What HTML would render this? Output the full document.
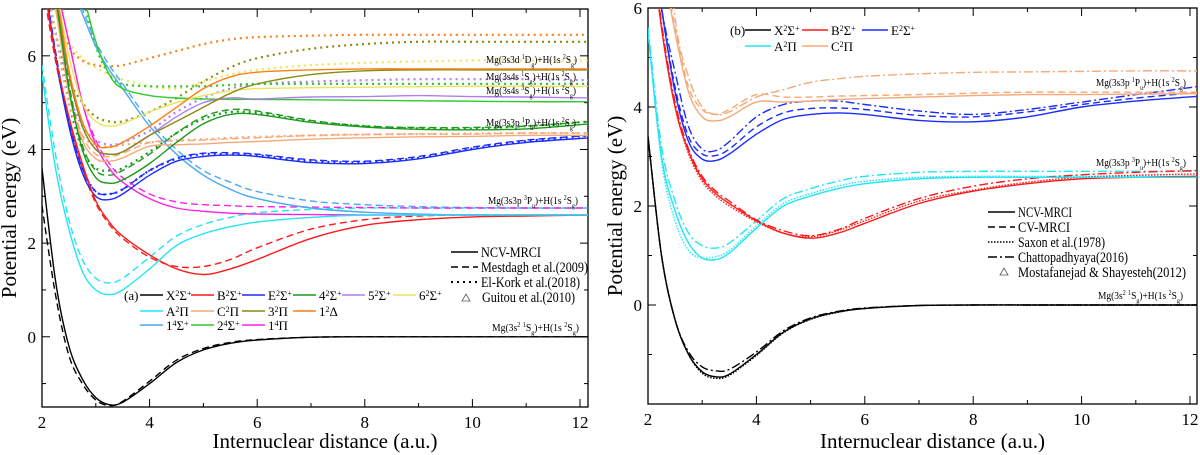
<!DOCTYPE html>
<html><head><meta charset="utf-8">
<style>
html,body{margin:0;padding:0;background:#fff;}
svg{display:block;font-family:"Liberation Serif",serif;}
</style></head>
<body>
<svg id="chart" width="1200" height="455" viewBox="0 0 1200 455"></svg>
<script>
// ---------- data (energies in eV on a shared grid of internuclear distances) ----------
const R = [2,2.25,2.5,2.75,3,3.25,3.5,4,4.5,5,5.5,6,7,8,9,10,11,12.2];
const xTicks = [2,4,6,8,10,12];
const yTicksA = [0,2,4,6];
const yTicksB = [0,2,4,6];

// panel (a) NCV-MRCI (solid)
const aX  = [3.6,1.2,-0.2,-0.9,-1.3,-1.45,-1.4,-1.0,-0.55,-0.28,-0.14,-0.07,-0.01,0,0,0,0,0];
const aA  = [5.6,3.6,2.3,1.4,1.0,0.9,1.0,1.45,1.95,2.2,2.35,2.45,2.55,2.6,2.6,2.6,2.6,2.6];
const aB  = [7.8,6.0,4.7,3.7,2.9,2.45,2.15,1.75,1.45,1.33,1.45,1.65,2.1,2.38,2.5,2.56,2.58,2.6];
const aE  = [8,6.0,4.5,3.5,3.0,2.93,3.05,3.45,3.75,3.85,3.88,3.85,3.72,3.7,3.8,4.0,4.15,4.25];
const aC  = [8,7.0,5.2,4.2,3.8,3.75,3.82,4.07,4.1,4.12,4.15,4.17,4.22,4.25,4.27,4.28,4.3,4.3];
const aS4 = [8,7.2,5.3,4.0,3.4,3.28,3.35,3.7,4.15,4.55,4.75,4.75,4.58,4.48,4.43,4.42,4.44,4.55];
const aS5 = [8,7.2,5.6,4.5,4.0,3.9,3.95,4.3,4.7,5.0,5.1,5.08,5.12,5.13,5.15,5.13,5.12,5.1];
const aS6 = [8,7.4,6.0,5.0,4.6,4.5,4.55,4.8,5.0,5.15,5.25,5.3,5.32,5.33,5.34,5.35,5.35,5.35];
const aP3 = [8,7.3,5.6,4.5,4.0,3.9,3.95,4.3,4.6,4.9,5.2,5.4,5.6,5.68,5.7,5.7,5.7,5.7];
const aD1 = [8,7.4,5.7,4.6,4.1,4.05,4.15,4.5,4.9,5.3,5.55,5.65,5.7,5.72,5.72,5.72,5.72,5.72];
const aQ1 = [8,8,7.6,6.9,6.2,5.7,5.3,4.5,3.9,3.45,3.15,2.95,2.75,2.66,2.62,2.6,2.6,2.6];
const aQ2 = [9,9,8.5,7.4,6.3,5.6,5.3,5.15,5.1,5.08,5.07,5.07,5.06,5.05,5.04,5.03,5.02,5.02];
const aP4 = [8,7.5,6.3,5.0,4.1,3.6,3.3,2.95,2.75,2.68,2.64,2.62,2.61,2.6,2.6,2.6,2.6,2.6];
// panel (a) Mestdagh (dashed)
const aXd  = [2.8,0.9,-0.4,-1.0,-1.35,-1.47,-1.38,-0.95,-0.5,-0.25,-0.12,-0.06,-0.01,0,0,0,0,0];
const aAd  = [5.8,3.9,2.5,1.65,1.25,1.15,1.25,1.7,2.15,2.4,2.55,2.65,2.72,2.75,2.75,2.75,2.75,2.75];
const aBd  = [7.6,5.9,4.6,3.6,2.85,2.4,2.1,1.7,1.5,1.5,1.65,1.9,2.3,2.5,2.58,2.6,2.6,2.6];
const aEd  = [8,6.1,4.6,3.6,3.1,3.05,3.15,3.55,3.82,3.92,3.93,3.9,3.78,3.75,3.85,4.05,4.2,4.3];
const aCd  = [8,7.1,5.3,4.3,3.9,3.85,3.92,4.15,4.18,4.2,4.23,4.25,4.3,4.32,4.33,4.33,4.35,4.35];
const aS4d = [8,7.3,5.4,4.1,3.55,3.45,3.55,3.9,4.35,4.7,4.85,4.82,4.62,4.5,4.47,4.47,4.5,4.6];
const aQ1d = [8,8,7.7,7.0,6.3,5.8,5.4,4.6,4.0,3.55,3.3,3.1,2.9,2.82,2.78,2.76,2.75,2.75];
const aP4d = [8,7.5,6.3,5.0,4.2,3.7,3.4,3.05,2.88,2.82,2.8,2.78,2.77,2.76,2.75,2.75,2.75,2.75];
// panel (a) El-Kork (dotted)
const aD1o = [8,7,6.2,5.9,5.8,5.78,5.8,5.95,6.1,6.25,6.35,6.4,6.43,6.45,6.45,6.45,6.45,6.45];
const aP3o = [8,6.5,5.5,5.0,4.7,4.6,4.6,4.8,5.1,5.45,5.75,5.95,6.15,6.25,6.3,6.3,6.3,6.3];
const aS6o = [8,7,6.3,5.95,5.75,5.6,5.5,5.35,5.3,5.45,5.6,5.7,5.8,5.85,5.88,5.9,5.9,5.9];
const aS5o = [8,6.5,5.2,4.5,4.2,4.1,4.15,4.4,4.8,5.1,5.3,5.4,5.45,5.48,5.5,5.5,5.5,5.48];
const aS4o = [8,6.5,5.0,4.0,3.6,3.55,3.6,3.95,4.35,4.65,4.8,4.78,4.6,4.5,4.45,4.45,4.5,4.6];
const aQ2o = [9,9,8.5,7.3,6.2,5.6,5.4,5.35,5.35,5.35,5.38,5.4,5.4,5.4,5.4,5.4,5.4,5.4];
const aCo  = [8,6.5,5.0,4.3,4.1,4.05,4.1,4.15,4.2,4.22,4.25,4.27,4.3,4.32,4.33,4.34,4.35,4.35];
const aEo  = [8,6,4.6,3.6,3.1,3.05,3.15,3.55,3.8,3.9,3.9,3.88,3.75,3.73,3.82,4.02,4.18,4.3];

// panel (b)
const bX   = [3.4,1.0,-0.3,-1.0,-1.35,-1.45,-1.4,-1.0,-0.55,-0.28,-0.14,-0.07,-0.01,0,0,0,0,0];
const bXo  = [3.4,1.0,-0.3,-1.0,-1.38,-1.48,-1.42,-1.02,-0.56,-0.29,-0.15,-0.07,-0.01,0,0,0,0,0];
const bXdd = [3.4,1.0,-0.3,-0.95,-1.25,-1.33,-1.3,-0.95,-0.52,-0.26,-0.13,-0.06,-0.01,0,0,0,0,0];
const bA   = [5.5,3.0,1.9,1.25,0.95,0.92,1.05,1.55,2.0,2.2,2.35,2.45,2.55,2.58,2.58,2.58,2.58,2.58];
const bAo  = [5.5,2.9,1.7,1.1,0.95,0.98,1.1,1.6,2.05,2.25,2.4,2.5,2.58,2.6,2.6,2.6,2.6,2.6];
const bAdd = [5.6,3.2,2.1,1.45,1.2,1.15,1.25,1.7,2.15,2.35,2.5,2.6,2.68,2.7,2.7,2.7,2.7,2.7];
const bB   = [8,5.6,4.0,3.1,2.55,2.25,2.05,1.7,1.45,1.35,1.45,1.65,2.05,2.3,2.45,2.55,2.58,2.6];
const bBo  = [8,5.6,4.0,3.05,2.5,2.2,2.0,1.68,1.45,1.38,1.5,1.7,2.1,2.32,2.48,2.58,2.62,2.65];
const bBdd = [8,5.7,4.1,3.15,2.6,2.3,2.1,1.72,1.5,1.4,1.52,1.75,2.15,2.4,2.55,2.63,2.68,2.72];
const bE   = [8,6,4.3,3.3,2.95,2.92,3.05,3.45,3.75,3.85,3.88,3.85,3.73,3.7,3.8,4.0,4.12,4.22];
const bEd  = [8,6,4.4,3.4,3.05,3.02,3.15,3.6,3.88,3.97,3.98,3.95,3.83,3.8,3.9,4.05,4.18,4.3];
const bEdd = [8,6,4.7,3.6,3.15,3.12,3.3,3.8,4.05,4.12,4.12,4.05,3.92,3.85,3.95,4.1,4.25,4.42];
const bC   = [8,7,5.5,4.3,3.8,3.72,3.8,4.1,4.1,4.12,4.15,4.17,4.2,4.23,4.25,4.25,4.26,4.27];
const bCd  = [8,7,5.6,4.4,3.95,3.85,3.95,4.25,4.2,4.2,4.22,4.23,4.25,4.28,4.3,4.3,4.3,4.3];
const bCdd = [9,9,5.8,4.6,4.0,3.85,3.9,4.2,4.35,4.5,4.57,4.62,4.67,4.7,4.71,4.72,4.73,4.73];

// ---------- drawing ----------
const NS='http://www.w3.org/2000/svg';
const svg=document.getElementById('chart');
function mk(tag,attrs,parent){const e=document.createElementNS(NS,tag);for(const k in attrs)e.setAttribute(k,attrs[k]);(parent||svg).appendChild(e);return e;}

const PA={x0:42,x1:588,y0:9,y1:407,ry:[-1.5,7],xs:(580-42)/10,id:'a'};
const PB={x0:648,x1:1197,y0:8,y1:404,ry:[-2,6],xs:(1190-648)/10,id:'b'};
PA.X=v=>PA.x0+(v-2)*PA.xs; PA.Y=v=>PA.y1-(v-PA.ry[0])/(PA.ry[1]-PA.ry[0])*(PA.y1-PA.y0);
PB.X=v=>PB.x0+(v-2)*PB.xs; PB.Y=v=>PB.y1-(v-PB.ry[0])/(PB.ry[1]-PB.ry[0])*(PB.y1-PB.y0);

function axes(P,yt,name){
  const g=mk('g',{});
  
  
  mk('rect',{x:P.x0,y:P.y0,width:P.x1-P.x0,height:P.y1-P.y0,fill:'none',stroke:'#000','stroke-width':1.3},g);
  for(let v=2;v<=12;v++){const x=P.X(v),L=v%2?4:8;
    mk('line',{x1:x,y1:P.y1,x2:x,y2:P.y1-L,stroke:'#000'},g);
    mk('line',{x1:x,y1:P.y0,x2:x,y2:P.y0+L,stroke:'#000'},g);}
  xTicks.forEach(v=>{const t=mk('text',{x:P.X(v),y:P.y1+21,'text-anchor':'middle','font-size':17},g);t.textContent=v;
    
    });
  for(let v=Math.ceil(P.ry[0]);v<=P.ry[1];v++){const y=P.Y(v),L=v%2?4:8;
    mk('line',{x1:P.x0,y1:y,x2:P.x0+L,y2:y,stroke:'#000'},g);
    mk('line',{x1:P.x1,y1:y,x2:P.x1-L,y2:y,stroke:'#000'},g);}
  yt.forEach(v=>{const t=mk('text',{x:P.x0-6,y:P.Y(v)+6,'text-anchor':'end','font-size':17},g);t.textContent=v;
    
    });
  const xt=mk('text',{x:(P.x0+P.x1)/2+10,y:448,'text-anchor':'middle','font-size':21},g);xt.textContent='Internuclear distance (a.u.)';
  
  
  const yy=(P.y0+P.y1)/2; const yx=P.x0-26;
  const ytl=mk('text',{x:yx,y:yy,'text-anchor':'middle','font-size':21,transform:`rotate(-90 ${yx} ${yy})`},g);ytl.textContent='Potential energy (eV)';
  
  
  const cp=mk('clipPath',{id:'clip'+P.id});mk('rect',{x:P.x0,y:P.y0,width:P.x1-P.x0,height:P.y1-P.y0},cp);
}
function pathD(P,vals){
  const pts=R.map((r,i)=>[P.X(r),P.Y(vals[i])]);
  let d='M'+pts[0][0].toFixed(1)+','+pts[0][1].toFixed(1);
  for(let i=0;i<pts.length-1;i++){const p0=pts[Math.max(0,i-1)],p1=pts[i],p2=pts[i+1],p3=pts[Math.min(pts.length-1,i+2)];
    const c1=[p1[0]+(p2[0]-p0[0])/6,p1[1]+(p2[1]-p0[1])/6],c2=[p2[0]-(p3[0]-p1[0])/6,p2[1]-(p3[1]-p1[1])/6];
    d+=`C${c1[0].toFixed(1)},${c1[1].toFixed(1)} ${c2[0].toFixed(1)},${c2[1].toFixed(1)} ${p2[0].toFixed(1)},${p2[1].toFixed(1)}`;}
  return d;
}
const DASH={solid:'',dash:'7,4',dot:'2,4',dashdot:'9,3,2,3',fine:'1.5,1.5'};
function curve(P,vals,color,style,name){
  const p=mk('path',{d:pathD(P,vals),fill:'none',stroke:color,'stroke-width':style==='dot'?2.2:1.4,'stroke-dasharray':DASH[style],'clip-path':`url(#clip${P.id})`});
  
  
}
const COL={X:'#000',B:'#ff1a1a',E:'#1a2cff',S4:'#1a9a1a',S5:'#b27cf0',S6:'#ece45e',A:'#21e5f5',C:'#f5a878',P3:'#8a8a12',D1:'#ff7f14',Q1:'#4aa8f5',Q2:'#2ccc2c',P4:'#ff20e8'};

axes(PA,yTicksA,'panel-a');axes(PB,yTicksB,'panel-b');

[[aD1o,'D1','dot'],[aP3o,'P3','dot'],[aS6o,'S6','dot'],[aS5o,'S5','dot'],[aQ2o,'Q2','dot'],[aS4o,'S4','dot'],[aCo,'C','dot'],[aEo,'E','dot'],
 [aXd,'X','dash'],[aAd,'A','dash'],[aBd,'B','dash'],[aEd,'E','dash'],[aCd,'C','dash'],[aS4d,'S4','dash'],[aQ1d,'Q1','dash'],[aP4d,'P4','dash'],
 [aQ1,'Q1','solid'],[aQ2,'Q2','solid'],[aP4,'P4','solid'],[aS6,'S6','solid'],[aS5,'S5','solid'],[aP3,'P3','solid'],[aD1,'D1','solid'],
 [aC,'C','solid'],[aS4,'S4','solid'],[aE,'E','solid'],[aB,'B','solid'],[aA,'A','solid'],[aX,'X','solid']
].forEach(c=>curve(PA,c[0],COL[c[1]],c[2],'a-curve-'+c[1].toLowerCase()+'-'+c[2]));

[[bXo,'X','fine'],[bXdd,'X','dashdot'],[bAo,'A','fine'],[bAdd,'A','dashdot'],[bBo,'B','fine'],[bBdd,'B','dashdot'],
 [bEd,'E','dash'],[bEdd,'E','dashdot'],[bCd,'C','dash'],[bCdd,'C','dashdot'],
 [bC,'C','solid'],[bE,'E','solid'],[bB,'B','solid'],[bA,'A','solid'],[bX,'X','solid']
].forEach(c=>curve(PB,c[0],COL[c[1]],c[2],'b-curve-'+c[1].toLowerCase()+'-'+c[2]));

// ---------- annotations ----------
function ann(x,y,html,name,len){const t=mk('text',{x:x,y:y,'font-size':11,textLength:len,lengthAdjust:'spacingAndGlyphs'});t.innerHTML=html;
  
  }
const sup=s=>`<tspan baseline-shift="super" font-size="7">${s}</tspan>`;
const sub=s=>`<tspan baseline-shift="sub" font-size="7">${s}</tspan>`;
ann(486,63,`Mg(3s3d ${sup(1)}D${sub('g')})+H(1s ${sup(2)}S${sub('g')})`,'asymptote-3s3d',91);
ann(486,80,`Mg(3s4s ${sup(1)}S${sub('g')})+H(1s ${sup(2)}S${sub('g')})`,'asymptote-3s4s-singlet',90);
ann(486,94,`Mg(3s4s ${sup(3)}S${sub('g')})+H(1s ${sup(2)}S${sub('g')})`,'asymptote-3s4s-triplet',90);
ann(486,126,`Mg(3s3p ${sup(1)}P${sub('u')})+H(1s ${sup(2)}S${sub('g')})`,'asymptote-3s3p-singlet',90);
ann(488,204,`Mg(3s3p ${sup(3)}P${sub('u')})+H(1s ${sup(2)}S${sub('g')})`,'asymptote-3s3p-triplet',90);
ann(492,331,`Mg(3s${sup(2)} ${sup(1)}S${sub('g')})+H(1s ${sup(2)}S${sub('g')})`,'asymptote-ground',87);
ann(1096,86,`Mg(3s3p ${sup(1)}P${sub('u')})+H(1s ${sup(2)}S${sub('g')})`,'b-asymptote-3s3p-singlet',90);
ann(1096,166,`Mg(3s3p ${sup(3)}P${sub('u')})+H(1s ${sup(2)}S${sub('g')})`,'b-asymptote-3s3p-triplet',90);
ann(1098,299,`Mg(3s${sup(2)} ${sup(1)}S${sub('g')})+H(1s ${sup(2)}S${sub('g')})`,'b-asymptote-ground',85);

// ---------- legends ----------
function legItem(x1,x2,y,color,style,label,name,fs,len){
  const g=mk('g',{});
  
  
  mk('line',{x1:x1,y1:y,x2:x2,y2:y,stroke:color,'stroke-width':style==='dot'?2:1.5,'stroke-dasharray':DASH[style]},g);
  const a={x:x2+3,y:y+5,'font-size':fs};
  if(len){a.textLength=len;a.lengthAdjust='spacingAndGlyphs';}
  const t=mk('text',a,g);t.innerHTML=label;
}
const st=(a,s,p)=>`${a}<tspan baseline-shift="super" font-size="8">${s}</tspan>${p}`;
const stp=(a,s)=>`${a}<tspan baseline-shift="super" font-size="8">${s}</tspan>Σ<tspan baseline-shift="super" font-size="8">+</tspan>`;
let t0=mk('text',{x:124,y:300,'font-size':13});t0.textContent='(a)';


const legA=[[140,295,'X',stp('X','2')],[191,295,'B',stp('B','2')],[242,295,'E',stp('E','2')],[293,295,'S4',stp('4','2')],[342,295,'S5',stp('5','2')],[393,295,'S6',stp('6','2')],
 [140,311,'A',st('A','2','Π')],[191,311,'C',st('C','2','Π')],[242,311,'P3',st('3','2','Π')],[293,311,'D1',st('1','2','Δ')],
 [140,325,'Q1',stp('1','4')],[191,325,'Q2',stp('2','4')],[242,325,'P4',st('1','4','Π')]];
legA.forEach(l=>legItem(l[0],l[0]+23,l[1],COL[l[2]],'solid',l[3],'legend-a-'+l[2].toLowerCase(),13));
legItem(451,478,252,'#000','solid','NCV-MRCI','legend-ncv-mrci',15,60);
legItem(451,478,267,'#000','dash','Mestdagh et al.(2009)','legend-mestdagh',15,107);
legItem(451,478,282,'#000','dot','El-Kork et al.(2018)','legend-el-kork',15,99);
mk('path',{d:'M462,301 L466,294 L470,301 Z',fill:'none',stroke:'#555','stroke-width':0.8});
let tg=mk('text',{x:482,y:302,'font-size':15,textLength:93,lengthAdjust:'spacingAndGlyphs'});tg.textContent='Guitou et al.(2010)';



let t1=mk('text',{x:730,y:35,'font-size':13});t1.textContent='(b)';


[[745,30,'X',stp('X','2')],[802,30,'B',stp('B','2')],[862,30,'E',stp('E','2')],[745,46,'A',st('A','2','Π')],[802,46,'C',st('C','2','Π')]]
 .forEach(l=>legItem(l[0],l[0]+26,l[1],COL[l[2]],'solid',l[3],'legend-b-'+l[2].toLowerCase(),13));
legItem(988,1015,212,'#000','solid','NCV-MRCI','legend-b-ncv-mrci',15,54);
legItem(988,1015,227,'#000','dash','CV-MRCI','legend-b-cv-mrci',15,52);
legItem(988,1015,242,'#000','fine','Saxon et al.(1978)','legend-b-saxon',15,87);
legItem(988,1015,257,'#000','dashdot','Chattopadhyaya(2016)','legend-b-chattopadhyaya',15,110);
mk('path',{d:'M1000,275 L1004,268 L1008,275 Z',fill:'none',stroke:'#555','stroke-width':0.8});
let tm=mk('text',{x:1018,y:277,'font-size':15,textLength:168,lengthAdjust:'spacingAndGlyphs'});tm.textContent='Mostafanejad & Shayesteh(2012)';


</script>
</body></html>
